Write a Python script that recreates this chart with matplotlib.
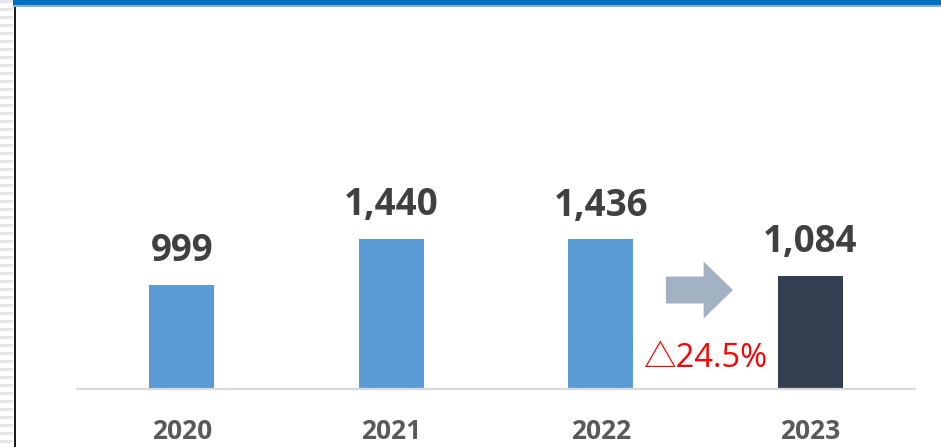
import matplotlib.pyplot as plt
from matplotlib.patches import Rectangle, FancyArrow

years = ['2020', '2021', '2022', '2023']
values = [999, 1440, 1436, 1084]
change_label = '△24.5%'

bar_colors = ['#5B9BD5', '#5B9BD5', '#5B9BD5', '#333F50']

plt.rcParams['font.family'] = ['Open Sans', 'DejaVu Sans']

fig = plt.figure(figsize=(9.41, 4.47), dpi=100)
W, H = 941, 447

# left striped strip + dark border line
for y in range(0, H, 8):
    fig.add_artist(Rectangle((0, 1 - (y + 3) / H), 13 / W, 3 / H,
                             transform=fig.transFigure, color='#e6e6e6', lw=0))
fig.add_artist(Rectangle((13.5 / W, 0), 2.5 / W, 1, transform=fig.transFigure,
                         color='#1a1a1a', lw=0))
# top blue bar
fig.add_artist(Rectangle((13 / W, 1 - 5 / H), 1, 5 / H, transform=fig.transFigure,
                         color='#0070C0', lw=0))
fig.add_artist(Rectangle((13 / W, 1 - 6.5 / H), 1, 1.5 / H, transform=fig.transFigure,
                         color='#7fb2de', lw=0))

ax = fig.add_axes([77 / W, (H - 389) / H, 838 / W, 349 / H])
x = range(len(years))
ax.bar(x, values, width=0.31, color=bar_colors, zorder=2)
ax.set_xlim(-0.5, 3.5)
ax.set_ylim(0, 3350)

for s in ['top', 'right', 'left']:
    ax.spines[s].set_visible(False)
ax.spines['bottom'].set_color('#d9d9d9')
ax.spines['bottom'].set_linewidth(1.6)
ax.set_yticks([])
ax.set_xticks(list(x))
ax.set_xticklabels(years, fontsize=19, fontweight='bold', color='#595959')
ax.tick_params(axis='x', length=0, pad=21)

for i, v in enumerate(values):
    ax.annotate(f'{v:,}', (i, v), xytext=(0, 17), textcoords='offset points',
                ha='center', va='baseline', fontsize=26.5, fontweight='bold',
                color='#404040')

# change arrow and label
ax.add_patch(FancyArrow(2.311, 950, 0.32, 0, width=259, head_width=547,
                        head_length=0.14, length_includes_head=True,
                        color='#A3B2C3', lw=0, zorder=3))
ax.annotate(change_label, (2.5, 0), xytext=(0, 16), textcoords='offset points',
            ha='center', va='baseline', fontsize=23.5, color='#FF0000',
            family=['Open Sans', 'Noto Sans CJK JP'])

fig.savefig('out.png', dpi=100)
